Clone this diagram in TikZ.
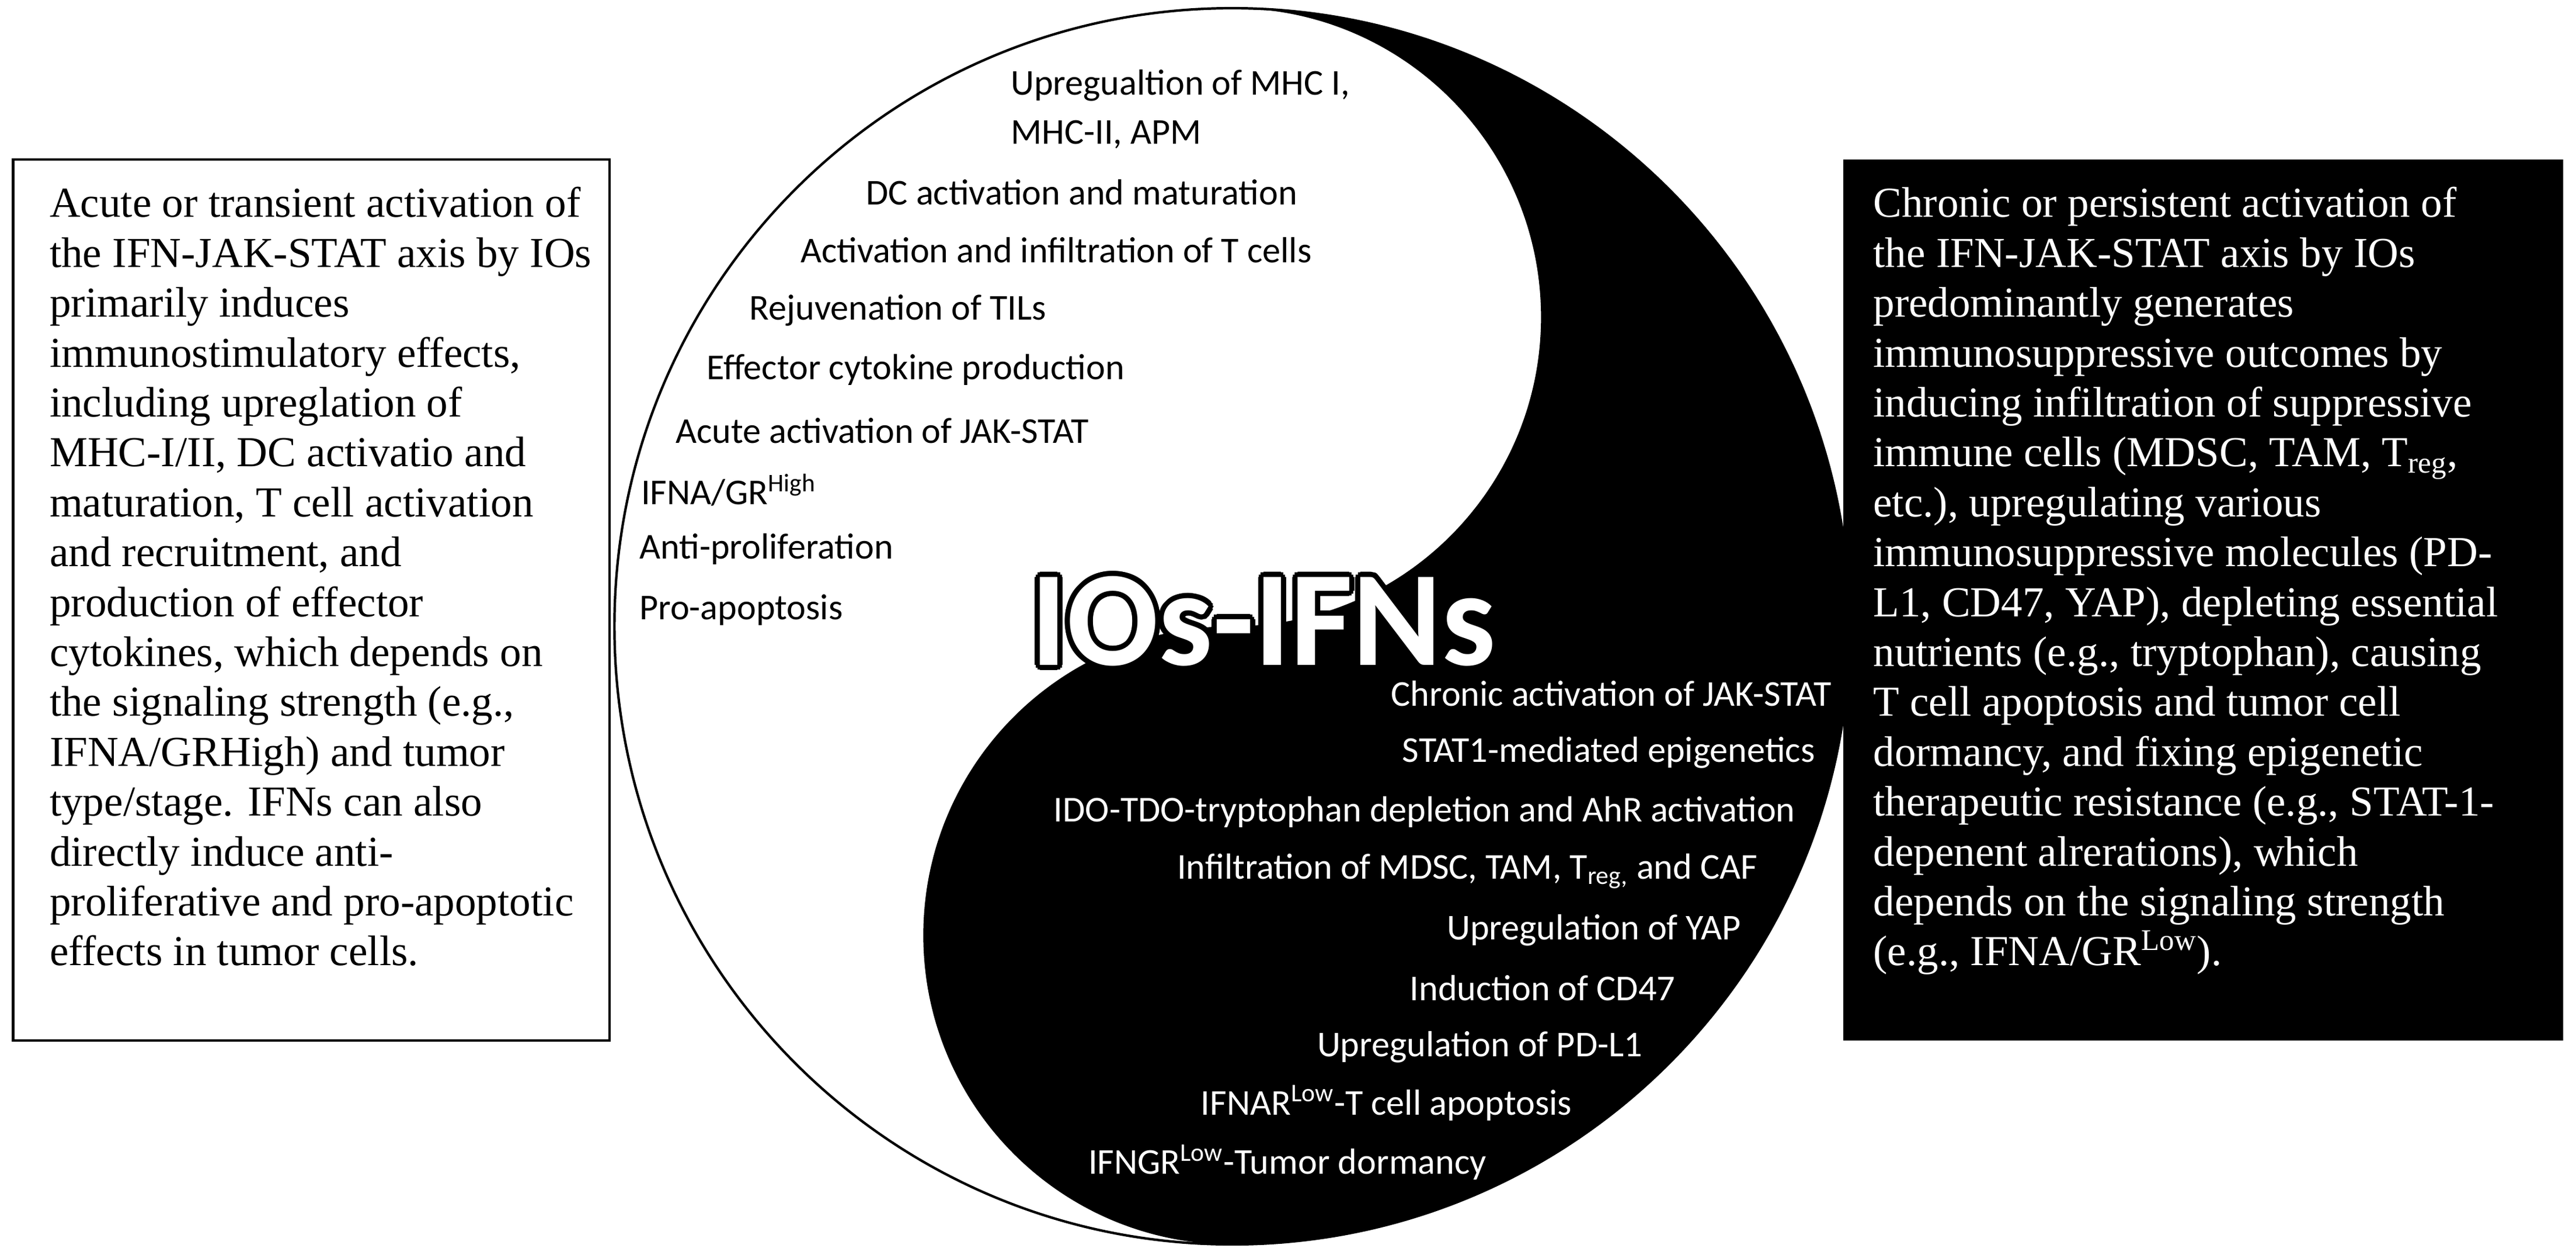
\documentclass[tikz,border=0pt]{standalone}
\usepackage{fontspec}
\setmainfont{Liberation Serif}
\newfontfamily\carlito{Carlito}
\usetikzlibrary{calc}
\tikzset{
  item/.style={font=\carlito\fontsize{17.7}{20}\selectfont, inner sep=0pt},
  wleft/.style={item, anchor=west, text=black},
  bright/.style={item, anchor=east, text=white},
  boxtext/.style={anchor=north west, align=left, inner sep=0pt,
    font=\fontsize{20.8}{24.3}\selectfont}
}
\begin{document}
\begin{tikzpicture}[x=0.02814cm, y=0.02814cm]
  \useasboundingbox (0,0) rectangle (1568,761.6);
  %yin-yang
  \fill[black] (750,756.6) arc[start angle=90, end angle=-90, radius=376]
    arc[start angle=-90, end angle=-270, radius=188]
    arc[start angle=-90, end angle=90, radius=188] -- cycle;
  \draw[line width=1.2pt] (750,380.6) circle[radius=376];
  %Adding upper items
  \foreach \x/\y/\txt in {615/709.6/{Upregualtion of MHC I,},
      615/679.6/{MHC-II, APM},
      527/644.6/{DC activation and maturation},
      487/609.6/{Activation and infiltration of T cells},
      456/572.6/{Rejuvenation of TILs},
      430/536.6/{Effector cytokine production},
      411/499.6/{Acute activation of JAK-STAT},
      390/463.6/{IFNA/GR\textsuperscript{High}},
      389/427.6/{Anti-proliferation},
      389/390.6/{Pro-apoptosis}}
    \node[wleft] at (\x,\y) {\txt};
  %Adding lower items
  \foreach \x/\y/\txt in {1115/339.6/{Chronic activation of JAK-STAT},
      1105/303.6/{STAT1-mediated epigenetics},
      1093/267.6/{IDO-TDO-tryptophan depletion and AhR activation},
      1070/231.6/{Infiltration of MDSC, TAM, T\textsubscript{reg,} and CAF},
      1060/195.6/{Upregulation of YAP},
      1020/160.6/{Induction of CD47},
      1000/124.6/{Upregulation of PD-L1},
      957/90.6/{IFNAR\textsuperscript{Low}-T cell apoptosis},
      905/54.6/{IFNGR\textsuperscript{Low}-Tumor dormancy}}
    \node[bright] at (\x,\y) {\txt};
  %Title
  \foreach \a in {0,30,...,330}
    \node[font=\carlito\bfseries\fontsize{66}{70}\selectfont, text=black]
      at ($(769,383.6)+(\a:3.2)$) {IOs-IFNs};
  \node[font=\carlito\bfseries\fontsize{66}{70}\selectfont, text=white]
    (title) at (769,383.6) {IOs-IFNs};
  %Boxes
  \draw[line width=1.2pt] (8,128.6) rectangle (371,664.6);
  \fill[black] (1122,128.6) rectangle (1560,664.6);
  \node[boxtext] (acute) at (30,648) {Acute or transient activation of\\
    the IFN-JAK-STAT axis by IOs\\ primarily induces\\
    immunostimulatory effects,\\ including upreglation of\\
    MHC-I/II, DC activatio and\\ maturation, T cell activation\\
    and recruitment, and\\ production of effector\\
    cytokines, which depends on\\ the signaling strength (e.g.,\\
    IFNA/GRHigh) and tumor\\ type/stage. IFNs can also\\
    directly induce anti-\\ proliferative and pro-apoptotic\\
    effects in tumor cells.};
  \node[boxtext, text=white] (chronic) at (1140,648) {Chronic or persistent activation of\\
    the IFN-JAK-STAT axis by IOs\\ predominantly generates\\
    immunosuppressive outcomes by\\ inducing infiltration of suppressive\\
    immune cells (MDSC, TAM, T\textsubscript{reg},\\ etc.), upregulating various\\
    immunosuppressive molecules (PD-\\ L1, CD47, YAP), depleting essential\\
    nutrients (e.g., tryptophan), causing\\ T cell apoptosis and tumor cell\\
    dormancy, and fixing epigenetic\\ therapeutic resistance (e.g., STAT-1-\\
    depenent alrerations), which\\ depends on the signaling strength\\
    (e.g., IFNA/GR\textsuperscript{Low}).};
\end{tikzpicture}
\end{document}
